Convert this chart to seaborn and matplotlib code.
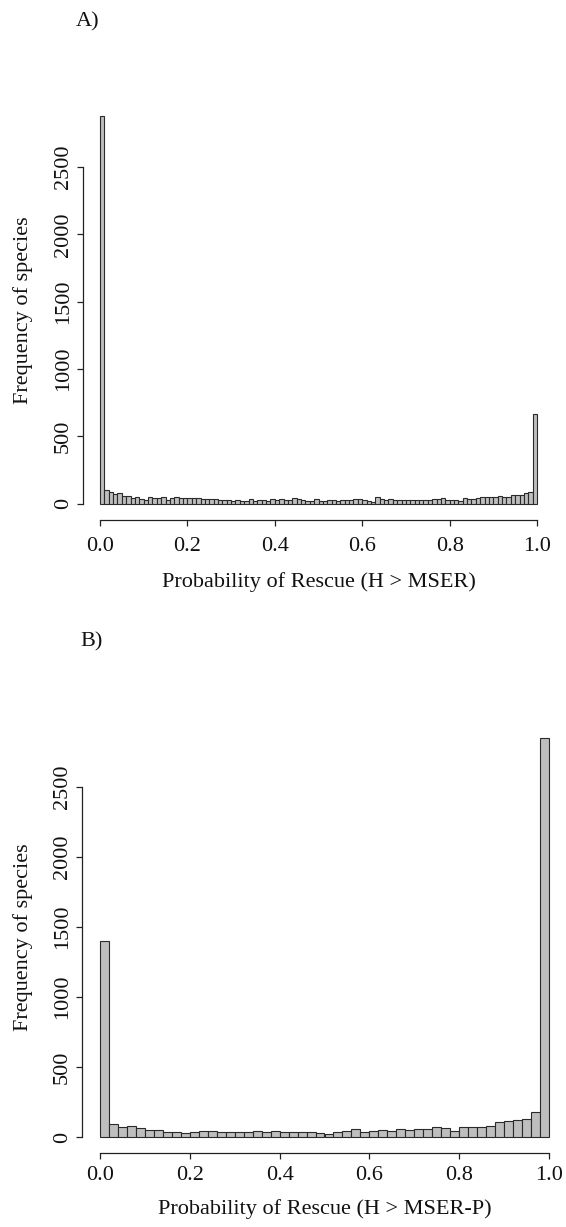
import numpy as np
import pandas as pd
import matplotlib
matplotlib.use("Agg")
import matplotlib.pyplot as plt
import seaborn as sns

# ---- data (counts) ----
counts_a = [2880, 104, 89, 69, 79, 57, 57, 45, 50, 37,
            27, 50, 45, 45, 50, 27, 40, 50, 40, 40,
            45, 40, 45, 32, 35, 35, 35, 27, 27, 27,
            22, 27, 20, 22, 35, 22, 27, 27, 20, 35,
            27, 35, 27, 27, 42, 32, 27, 20, 20, 35,
            22, 20, 27, 27, 20, 27, 27, 27, 35, 35,
            27, 20, 12, 50, 35, 27, 35, 27, 27, 27,
            27, 27, 27, 27, 27, 27, 35, 35, 42, 27,
            27, 27, 20, 42, 35, 35, 42, 50, 50, 50,
            50, 57, 50, 50, 62, 62, 62, 82, 89, 668]
counts_b = [1400, 93, 71, 79, 64, 50, 50, 36, 36, 31,
            38, 45, 45, 33, 38, 38, 33, 45, 38, 45,
            36, 36, 36, 36, 31, 24, 33, 45, 57, 36,
            45, 50, 45, 57, 50, 57, 57, 71, 64, 45,
            71, 71, 71, 79, 105, 112, 119, 131, 179, 2850]
x_ticks = [0.0, 0.2, 0.4, 0.6, 0.8, 1.0]
x_tick_labels = ["0.0", "0.2", "0.4", "0.6", "0.8", "1.0"]
y_ticks = [0, 500, 1000, 1500, 2000, 2500]
y_tick_labels = ["0", "500", "1000", "1500", "2000", "2500"]
xlabel_a = "Probability of Rescue (H > MSER)"
xlabel_b = "Probability of Rescue (H > MSER-P)"
ylabel = "Frequency of species"
panel_a = "A)"
panel_b = "B)"

sns.set_theme(style="white")
plt.rcParams["font.family"] = ["Liberation Serif", "DejaVu Serif"]
FS = 16

W, H = 566, 1227
fig = plt.figure(figsize=(W / 100, H / 100), dpi=100)


def make_ax(left, right, top, bottom):
    return fig.add_axes([left / W, 1 - bottom / H, (right - left) / W, (bottom - top) / H])


def draw(ax, counts, xlabel, ylim, xlabel_y, ylabel_x, xpad):
    n = len(counts)
    centers = [(i + 0.5) / n for i in range(n)]
    df = pd.DataFrame({"p": centers, "count": counts})
    sns.histplot(data=df, x="p", weights="count", bins=n, binrange=(0, 1), ax=ax,
                 color="#bebebe", edgecolor="#2a2a2a", linewidth=0.8,
                 alpha=1.0)
    ax.set_xlim(-0.04, 1.04)
    ax.set_ylim(*ylim)
    for s in ["top", "right"]:
        ax.spines[s].set_visible(False)
    for s in ["left", "bottom"]:
        ax.spines[s].set_color("#222222")
        ax.spines[s].set_linewidth(0.9)
    ax.spines["left"].set_bounds(0, 2500)
    ax.spines["bottom"].set_bounds(0, 1)
    ax.set_xticks(x_ticks)
    ax.set_xticklabels(x_tick_labels)
    ax.set_yticks(y_ticks)
    ax.set_yticklabels(y_tick_labels, rotation=90, va="center")
    ax.tick_params(axis="both", direction="out", length=4.6, width=0.9,
                   color="#222222", labelsize=FS, labelcolor="#111111",
                   bottom=True, left=True)
    ax.tick_params(axis="x", pad=xpad)
    ax.tick_params(axis="y", pad=2.5)
    ax.set_xlabel(xlabel, fontsize=FS, color="#111111")
    ax.set_ylabel(ylabel, fontsize=FS, color="#111111")
    ax.xaxis.set_label_coords(0.5, xlabel_y)
    ax.yaxis.set_label_coords(ylabel_x, 0.5)
    ax.grid(False)


ax_a = make_ax(82.5, 554.5, 100, 520)
draw(ax_a, counts_a, xlabel_a, (-122, 2997), -0.124, -0.105, 7.8)

ax_b = make_ax(82, 567, 722, 1153)
draw(ax_b, counts_b, xlabel_b, (-114, 2964), -0.107, -0.101, 4.8)

fig.text(76 / W, 1 - 26 / H, panel_a, fontsize=FS, va="baseline", ha="left", color="#111111")
fig.text(80 / W, 1 - 646 / H, panel_b, fontsize=FS, va="baseline", ha="left", color="#111111")

fig.savefig("out.png", dpi=100, facecolor="white")
